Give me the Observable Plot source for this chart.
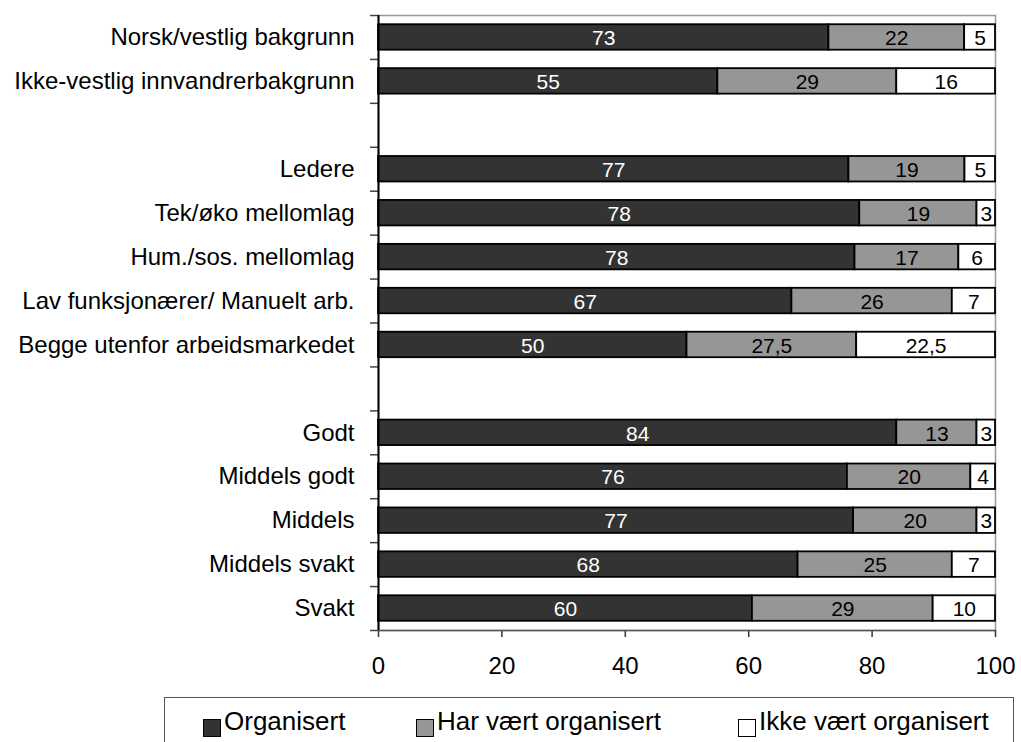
<!DOCTYPE html>
<html>
<head>
<meta charset="utf-8">
<script src="https://cdn.jsdelivr.net/npm/d3@7"></script>
<script src="https://cdn.jsdelivr.net/npm/@observablehq/plot@0.6"></script>
<style>
  html, body { margin: 0; padding: 0; background: #fff; }
  #wrap { position: relative; width: 1021px; height: 742px; font-family: "Liberation Sans", Arial, sans-serif; }
  #legend { position: absolute; left: 164px; top: 697px; width: 850px; height: 60px; border: 1px solid #555; box-sizing: border-box; }
  .sw { position: absolute; width: 18px; height: 18px; box-sizing: border-box; border: 1px solid #000; top: 21px; }
  .lt { position: absolute; font-size: 26px; line-height: 26px; top: 10px; color: #000; white-space: nowrap; }
</style>
</head>
<body>
<div id="wrap">
  <div id="chart"></div>
  <div id="legend"></div>
</div>
<script>
const categories = [
  "Norsk/vestlig bakgrunn",
  "Ikke-vestlig innvandrerbakgrunn",
  "",
  "Ledere",
  "Tek/øko mellomlag",
  "Hum./sos. mellomlag",
  "Lav funksjonærer/ Manuelt arb.",
  "Begge utenfor arbeidsmarkedet",
  "",
  "Godt",
  "Middels godt",
  "Middels",
  "Middels svakt",
  "Svakt"
];
const organisert = [73, 55, null, 77, 78, 78, 67, 50, null, 84, 76, 77, 68, 60];
const harVaertOrganisert = [22, 29, null, 19, 19, 17, 26, 27.5, null, 13, 20, 20, 25, 29];
const ikkeVaertOrganisert = [5, 16, null, 5, 3, 6, 7, 22.5, null, 3, 4, 3, 7, 10];
const seriesNames = ["Organisert", "Har vært organisert", "Ikke vært organisert"];
const xTicks = [0, 20, 40, 60, 80, 100];
const colors = ["#333333", "#969696", "#ffffff"];

// Build stacked table (each row normalized to 100)
const seriesValues = [organisert, harVaertOrganisert, ikkeVaertOrganisert];
const table = [];
categories.forEach((cat, i) => {
  if (organisert[i] == null) return;
  const vals = seriesValues.map(s => s[i]);
  const total = d3.sum(vals);
  let acc = 0;
  vals.forEach((v, k) => {
    const x1 = acc / total * 100;
    acc += v;
    const x2 = acc / total * 100;
    table.push({row: i, category: cat, series: seriesNames[k], value: v, x1, x2});
  });
});

const nRows = categories.length;
const rowCenters = categories.map((c, i) => i + 0.5).filter((c, i) => categories[i] !== "");
const boundaries = d3.range(0, nRows + 1);
const half = 0.29;
const fmt = v => String(v).replace(".", ",");

const chart = Plot.plot({
  width: 1021,
  height: 690,
  marginLeft: 378,
  marginRight: 26,
  marginTop: 15,
  marginBottom: 60,
  style: {fontFamily: "'Liberation Sans', Arial, sans-serif", background: "#fff"},
  x: {domain: [0, 100], axis: null},
  y: {domain: [nRows, 0], axis: null},
  color: {domain: seriesNames, range: colors},
  marks: [
    Plot.frame({stroke: "#999", strokeWidth: 1.5}),
    Plot.rectX(table, {
      x1: "x1", x2: "x2",
      y1: d => d.row + 0.5 - half,
      y2: d => d.row + 0.5 + half,
      fill: "series",
      stroke: "#000",
      strokeWidth: 1.8
    }),
    Plot.text(table, {
      x: d => (d.x1 + d.x2) / 2,
      y: d => d.row + 0.5,
      text: d => fmt(d.value),
      fill: d => d.series === seriesNames[0] ? "#fff" : "#000",
      fontSize: 21,
      dy: 1
    }),
    Plot.axisY(boundaries, {
      anchor: "left",
      tickSize: 8,
      tickFormat: () => "",
      stroke: "#444",
      strokeWidth: 1.5
    }),
    Plot.axisY(rowCenters, {
      anchor: "left",
      tickSize: 0,
      tickPadding: 24,
      tickFormat: v => categories[Math.floor(v)],
      fontSize: 24,
      fill: "#000"
    }),
    Plot.axisX(xTicks, {
      anchor: "bottom",
      tickSize: 7,
      tickPadding: 19,
      fontSize: 24,
      stroke: "#333",
      strokeWidth: 1.5,
      fill: "#000"
    }),
    Plot.ruleY([nRows], {stroke: "#555", strokeWidth: 1.5}),
    Plot.ruleX([0], {stroke: "#000", strokeWidth: 2})
  ]
});
document.getElementById("chart").appendChild(chart);

// Legend
const legend = document.getElementById("legend");
const swLeft = [38, 251, 573];
seriesNames.forEach((name, k) => {
  const sw = document.createElement("div");
  sw.className = "sw";
  sw.style.left = swLeft[k] + "px";
  sw.style.background = colors[k];
  legend.appendChild(sw);
  const t = document.createElement("div");
  t.className = "lt";
  t.style.left = (swLeft[k] + 21) + "px";
  t.textContent = name;
  legend.appendChild(t);
});
</script>
</body>
</html>
